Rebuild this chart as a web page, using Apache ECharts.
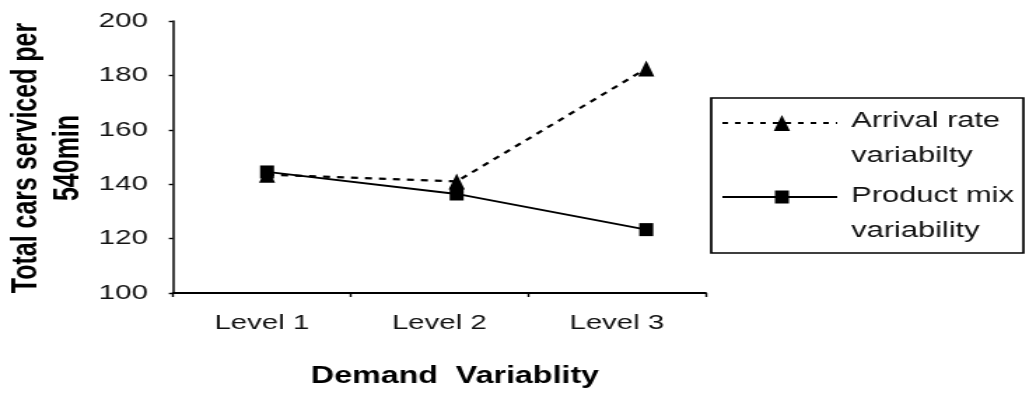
<!DOCTYPE html>
<html>
<head>
<meta charset="utf-8">
<title>Total cars serviced per 540min</title>
<script src="https://cdn.jsdelivr.net/npm/echarts@6/dist/echarts.min.js"></script>
<style>
  html, body { margin: 0; padding: 0; background: #fff; overflow: hidden; }
  /* chart is laid out at 735px and widened 1.4x, giving the broad lettering of the original figure */
  #main { width: 735px; height: 402px; transform: scaleX(1.4); transform-origin: 0 0; }
</style>
</head>
<body>
<div id="main"></div>
<script>
// Demand variability levels on the x axis
const categories = ['Level 1', 'Level 2', 'Level 3'];
// Total cars serviced per 540 min
const arrivalRate = [143.5, 141, 182.5];
const productMix = [144.5, 136.4, 123.3];
// y axis range
const yMin = 100, yMax = 200, yStep = 20;

const FONT = '"Liberation Sans", Arial, sans-serif';
const chart = echarts.init(document.getElementById('main'), null, { renderer: 'canvas' });

// points sit at positions 1..3 on a hidden numeric axis that shares the grid with the category axis
const toPoints = arr => arr.map((v, i) => [i + 1, v]);

const legendX = 508, legendY = 98, legendW = 223, legendH = 155;
const sampleX1 = 516, sampleX2 = 598, sampleMid = 558.5, textX = 608;
const legendFont = '22px ' + FONT;

chart.setOption({
  backgroundColor: '#ffffff',
  animation: false,
  grid: { left: 123.6, right: 231, top: 21, bottom: 109, containLabel: false },
  xAxis: [
    {
      type: 'category',
      data: categories,
      boundaryGap: true,
      axisLine: { lineStyle: { color: '#000', width: 2 } },
      axisTick: { show: true, length: 4, lineStyle: { color: '#000', width: 1.4 } },
      axisLabel: { color: '#111', fontSize: 21, fontFamily: FONT, margin: 20 },
      splitLine: { show: false }
    },
    {
      type: 'value',
      show: false,
      min: 0.504,
      max: 3.313
    }
  ],
  yAxis: {
    type: 'value',
    min: yMin,
    max: yMax,
    interval: yStep,
    axisLine: { show: true, lineStyle: { color: '#000', width: 1.5 } },
    axisTick: { show: true, length: 3, lineStyle: { color: '#000', width: 1.4 } },
    axisLabel: { color: '#111', fontSize: 21, fontFamily: FONT, margin: 18 },
    splitLine: { show: false }
  },
  series: [
    {
      name: 'Arrival rate variabilty',
      type: 'line',
      xAxisIndex: 1,
      data: toPoints(arrivalRate),
      symbol: 'triangle',
      symbolSize: [11.5, 16],
      itemStyle: { color: '#000' },
      lineStyle: { color: '#000', width: 2.2, type: [5, 5] },
      z: 2
    },
    {
      name: 'Product mix variability',
      type: 'line',
      xAxisIndex: 1,
      data: toPoints(productMix),
      symbol: 'rect',
      symbolSize: [10, 13],
      itemStyle: { color: '#000' },
      lineStyle: { color: '#000', width: 1.8 },
      z: 3
    }
  ],
  graphic: [
    // y axis title
    {
      type: 'text',
      x: 34, y: 158,
      rotation: Math.PI / 2,
      style: {
        text: 'Total cars serviced per\n540min',
        font: 'bold 25px ' + FONT,
        fill: '#000',
        align: 'center',
        verticalAlign: 'middle',
        lineHeight: 30
      }
    },
    // x axis title
    {
      type: 'text',
      x: 325, y: 377,
      style: {
        text: 'Demand  Variablity',
        font: 'bold 23px ' + FONT,
        fill: '#000',
        align: 'center',
        verticalAlign: 'middle'
      }
    },
    // legend frame
    {
      type: 'rect',
      shape: { x: legendX, y: legendY, width: legendW, height: legendH },
      style: { fill: '#fff', stroke: '#000', lineWidth: 1.7 }
    },
    // legend: arrival rate sample
    {
      type: 'line',
      shape: { x1: sampleX1, y1: 123, x2: sampleX2, y2: 123 },
      style: { stroke: '#000', lineWidth: 2.2, lineDash: [4, 5] }
    },
    {
      type: 'polygon',
      shape: { points: [[sampleMid, 115], [sampleMid + 5.8, 131], [sampleMid - 5.8, 131]] },
      style: { fill: '#000' }
    },
    {
      type: 'text',
      x: textX, y: 121,
      style: { text: 'Arrival rate', font: legendFont, fill: '#111', align: 'left', verticalAlign: 'middle' }
    },
    {
      type: 'text',
      x: textX, y: 156,
      style: { text: 'variabilty', font: legendFont, fill: '#111', align: 'left', verticalAlign: 'middle' }
    },
    // legend: product mix sample
    {
      type: 'line',
      shape: { x1: sampleX1, y1: 197, x2: sampleX2, y2: 197 },
      style: { stroke: '#000', lineWidth: 1.8 }
    },
    {
      type: 'rect',
      shape: { x: sampleMid - 5, y: 190.5, width: 10, height: 13 },
      style: { fill: '#000' }
    },
    {
      type: 'text',
      x: textX, y: 196,
      style: { text: 'Product mix', font: legendFont, fill: '#111', align: 'left', verticalAlign: 'middle' }
    },
    {
      type: 'text',
      x: textX, y: 231,
      style: { text: 'variability', font: legendFont, fill: '#111', align: 'left', verticalAlign: 'middle' }
    }
  ]
});
</script>
</body>
</html>
